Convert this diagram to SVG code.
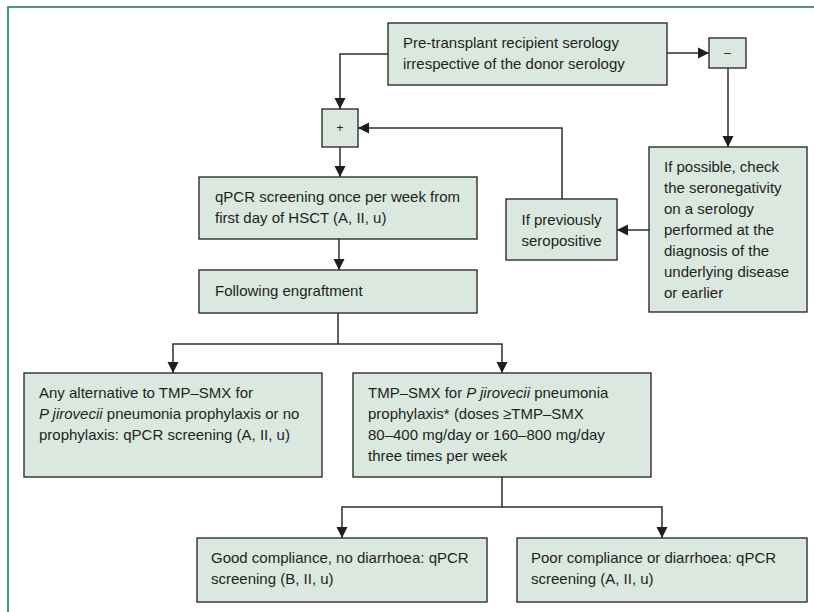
<svg xmlns="http://www.w3.org/2000/svg" width="814" height="612" viewBox="0 0 814 612">
<style>
.box{fill:#dae8e0;stroke:#2e2e2e;stroke-width:1.4}
.t{font-family:"Liberation Sans",Arial,sans-serif;font-size:15px;fill:#231f20}
.c{text-anchor:middle}
.s{font-family:"Liberation Sans",Arial,sans-serif;font-size:12px;fill:#231f20;text-anchor:middle}
.con path{fill:none;stroke:#2e2e2e;stroke-width:1.5}
.i{font-style:italic}
</style>
<defs>
<marker id="ah" markerUnits="userSpaceOnUse" markerWidth="12" markerHeight="12" refX="11" refY="6" orient="auto">
<path d="M0,0.5 L11,6 L0,11.5 z" fill="#1e1e1e"/>
</marker>
</defs>
<rect width="814" height="612" fill="#ffffff"/>
<path d="M8,612 V7 H814" fill="none" stroke="#1d7a45" stroke-width="1.6"/>
<g class="con">
<path d="M388,54 H340 V109" marker-end="url(#ah)"/>
<path d="M667,53 H709" marker-end="url(#ah)"/>
<path d="M728,68 V147" marker-end="url(#ah)"/>
<path d="M649,230 H617" marker-end="url(#ah)"/>
<path d="M562,199 V128 H358" marker-end="url(#ah)"/>
<path d="M340,147 V177" marker-end="url(#ah)"/>
<path d="M339,239 V270" marker-end="url(#ah)"/>
<path d="M338,313 V344 H173 V373" marker-end="url(#ah)"/>
<path d="M338,344 H502 V373" marker-end="url(#ah)"/>
<path d="M502,477 V507 H342 V538" marker-end="url(#ah)"/>
<path d="M502,507 H662 V538" marker-end="url(#ah)"/>
</g>
<g id="pretransplant">
<rect class="box" x="388" y="23" width="279" height="62"/>
<text class="t" x="403" y="48">Pre-transplant recipient serology</text>
<text class="t" x="403" y="69">irrespective of the donor serology</text>
</g>
<g id="negative">
<rect class="box" x="709" y="38" width="37" height="30"/>
<text class="s" x="727.5" y="57">–</text>
</g>
<g id="positive">
<rect class="box" x="322" y="109" width="36" height="38"/>
<text class="s" x="340" y="132">+</text>
</g>
<g id="qpcr">
<rect class="box" x="199" y="177" width="278" height="62"/>
<text class="t" x="215" y="202">qPCR screening once per week from</text>
<text class="t" x="215" y="223">first day of HSCT (A, II, u)</text>
</g>
<g id="engraftment">
<rect class="box" x="199" y="270" width="278" height="43"/>
<text class="t" x="215" y="296">Following engraftment</text>
</g>
<g id="previously">
<rect class="box" x="506" y="199" width="111" height="61"/>
<text class="t c" x="561.5" y="225">If previously</text>
<text class="t c" x="561.5" y="246">seropositive</text>
</g>
<g id="check">
<rect class="box" x="649" y="147" width="158" height="165"/>
<text class="t" x="664" y="172">If possible, check</text>
<text class="t" x="664" y="193">the seronegativity</text>
<text class="t" x="664" y="214">on a serology</text>
<text class="t" x="664" y="235">performed at the</text>
<text class="t" x="664" y="256">diagnosis of the</text>
<text class="t" x="664" y="277">underlying disease</text>
<text class="t" x="664" y="298">or earlier</text>
</g>
<g id="alternative">
<rect class="box" x="24" y="373" width="298" height="104"/>
<text class="t" x="39" y="398">Any alternative to TMP–SMX for</text>
<text class="t" x="39" y="419"><tspan class="i">P jirovecii</tspan> pneumonia prophylaxis or no</text>
<text class="t" x="39" y="440">prophylaxis: qPCR screening (A, II, u)</text>
</g>
<g id="tmpsmx">
<rect class="box" x="353" y="373" width="298" height="104"/>
<text class="t" x="368" y="398">TMP–SMX for <tspan class="i">P jirovecii</tspan> pneumonia</text>
<text class="t" x="368" y="419">prophylaxis* (doses ≥TMP–SMX</text>
<text class="t" x="368" y="440">80–400 mg/day or 160–800 mg/day</text>
<text class="t" x="368" y="461">three times per week</text>
</g>
<g id="good">
<rect class="box" x="197" y="538" width="290" height="64"/>
<text class="t" x="211" y="563">Good compliance, no diarrhoea: qPCR</text>
<text class="t" x="211" y="584">screening (B, II, u)</text>
</g>
<g id="poor">
<rect class="box" x="517" y="538" width="290" height="64"/>
<text class="t" x="531" y="563">Poor compliance or diarrhoea: qPCR</text>
<text class="t" x="531" y="584">screening (A, II, u)</text>
</g>
</svg>
